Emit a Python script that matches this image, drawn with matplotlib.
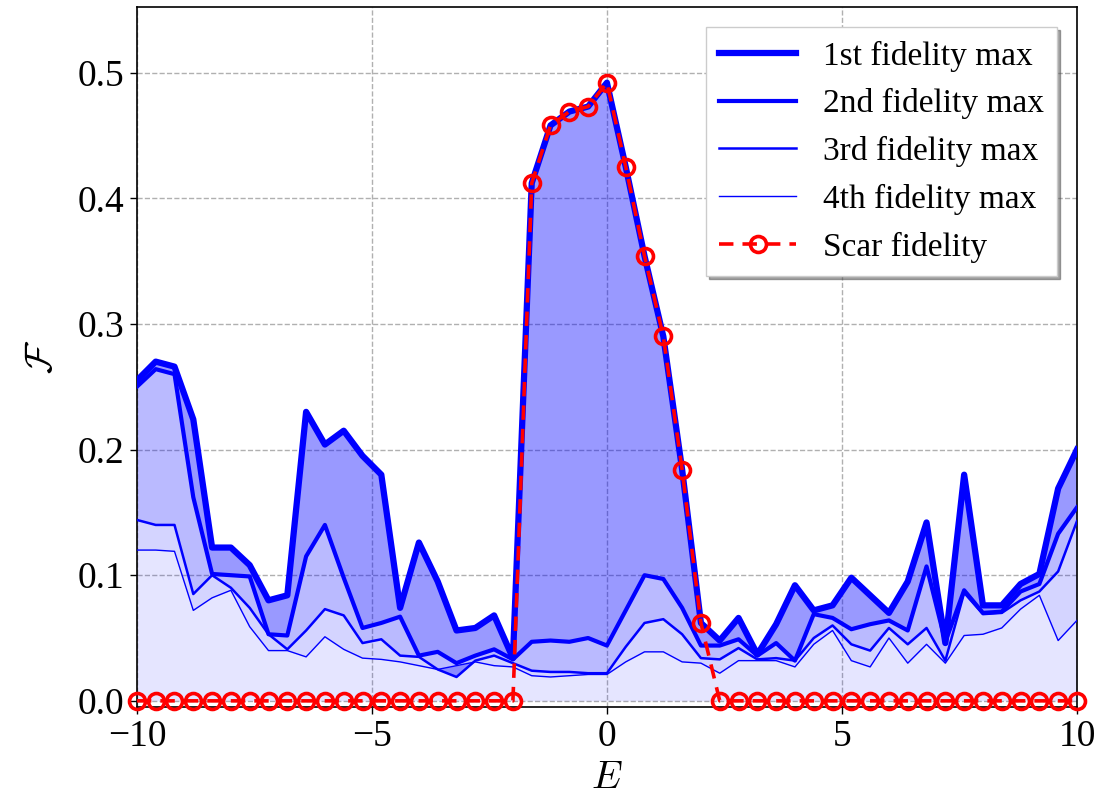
import matplotlib.pyplot as plt
import numpy as np

# -------------------------------------------------------------------------------------------------
# Data, energy grid E from -10 to 10 in steps of 0.4

energy = np.linspace(-10, 10, 51)

fid_1st = [0.255, 0.270, 0.266, 0.224, 0.122, 0.122, 0.108, 0.080, 0.084, 0.230,
           0.204, 0.215, 0.195, 0.180, 0.074, 0.126, 0.095, 0.056, 0.058, 0.068,
           0.034, 0.412, 0.458, 0.469, 0.473, 0.492, 0.425, 0.354, 0.290, 0.184,
           0.062, 0.048, 0.066, 0.037, 0.061, 0.092, 0.072, 0.076, 0.098, 0.084,
           0.070, 0.095, 0.142, 0.046, 0.180, 0.076, 0.076, 0.093, 0.101, 0.169,
           0.200]

fid_2nd = [0.250, 0.264, 0.260, 0.162, 0.101, 0.100, 0.099, 0.053, 0.052, 0.115,
           0.140, 0.098, 0.058, 0.062, 0.067, 0.036, 0.039, 0.030, 0.036, 0.041,
           0.033, 0.047, 0.048, 0.047, 0.050, 0.044, 0.072, 0.100, 0.097, 0.074,
           0.044, 0.044, 0.049, 0.036, 0.046, 0.032, 0.069, 0.066, 0.057, 0.061,
           0.064, 0.056, 0.107, 0.047, 0.088, 0.070, 0.071, 0.087, 0.093, 0.133,
           0.154]

fid_3rd = [0.144, 0.140, 0.140, 0.085, 0.100, 0.090, 0.074, 0.053, 0.041, 0.056,
           0.073, 0.068, 0.046, 0.049, 0.036, 0.035, 0.025, 0.019, 0.032, 0.036,
           0.030, 0.024, 0.023, 0.023, 0.022, 0.022, 0.043, 0.062, 0.065, 0.053,
           0.034, 0.033, 0.042, 0.033, 0.034, 0.032, 0.050, 0.060, 0.045, 0.040,
           0.058, 0.045, 0.058, 0.032, 0.086, 0.069, 0.070, 0.080, 0.087, 0.103,
           0.143]

fid_4th = [0.120, 0.120, 0.119, 0.072, 0.082, 0.088, 0.059, 0.040, 0.040, 0.035,
           0.051, 0.041, 0.034, 0.033, 0.031, 0.028, 0.025, 0.028, 0.031, 0.028,
           0.027, 0.020, 0.019, 0.020, 0.021, 0.021, 0.031, 0.039, 0.039, 0.031,
           0.030, 0.022, 0.032, 0.032, 0.032, 0.027, 0.045, 0.056, 0.032, 0.027,
           0.050, 0.030, 0.045, 0.030, 0.052, 0.053, 0.058, 0.073, 0.084, 0.048,
           0.064]

scar_fid = [0.0] * 21 + [0.412, 0.458, 0.469, 0.473, 0.492, 0.425, 0.354, 0.290, 0.184,
                         0.062] + [0.0] * 20

labels = ['1st fidelity max', '2nd fidelity max', '3rd fidelity max', '4th fidelity max']

# -------------------------------------------------------------------------------------------------

plt.rcParams['font.family'] = ['Liberation Serif', 'DejaVu Serif']
plt.rcParams['mathtext.fontset'] = 'cm'

fig, ax = plt.subplots(figsize=(11.04, 8.10), dpi=100)
plt.subplots_adjust(left=0.124, right=0.9755, top=0.991, bottom=0.127)

# Shaded bands between consecutive maxima
ax.fill_between(energy, fid_1st, fid_2nd, color='blue', alpha=0.40, linewidth=0)
ax.fill_between(energy, fid_2nd, fid_3rd, color='blue', alpha=0.27, linewidth=0)
ax.fill_between(energy, fid_3rd, fid_4th, color='blue', alpha=0.17, linewidth=0)
ax.fill_between(energy, fid_4th, 0, color='blue', alpha=0.10, linewidth=0)

# Fidelity maxima lines, thinner for higher order
widths = [4.5, 3.0, 1.8, 1.0]
for series, lw, lab in zip([fid_1st, fid_2nd, fid_3rd, fid_4th], widths, labels):
    ax.plot(energy, series, color='blue', linewidth=lw, label=lab, zorder=3)

# Scar fidelity
ax.plot(energy, scar_fid, color='red', linestyle='--', linewidth=2.6, marker='o',
        markersize=11.5, markerfacecolor='none', markeredgewidth=2.6,
        dashes=(4, 2.5), label='Scar fidelity', zorder=4, clip_on=False)

# -------------------------------------------------------------------------------------------------

ax.set_xlim(-10, 10)
ax.set_ylim(-0.005, 0.552)
ax.set_xticks([-10, -5, 0, 5, 10])
ax.set_yticks([0.0, 0.1, 0.2, 0.3, 0.4, 0.5])
ax.tick_params(labelsize=27, length=5, width=1, pad=4)

ax.grid(True, color='#b0b0b0', linestyle='--', linewidth=1)
ax.set_axisbelow(True)

ax.set_xlabel('$E$', fontsize=28, labelpad=4)
ax.set_ylabel(r'$\mathcal{F}$', fontsize=28, labelpad=12)

for side in ax.spines.values():
    side.set_linewidth(1.2)

ax.legend(loc='upper right', fontsize=24, shadow=True, fancybox=False,
          framealpha=1, edgecolor='#cccccc', handlelength=2.3, labelspacing=0.5,
          borderaxespad=0.6)

fig.savefig('out.png', dpi=100, facecolor='white')
